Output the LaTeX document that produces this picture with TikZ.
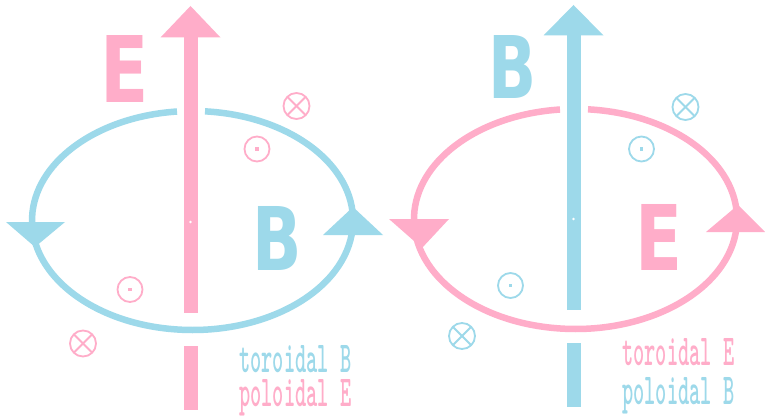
\documentclass[tikz,border=0pt]{standalone}
\usepackage{fontspec}
\newfontfamily\letterfont{DejaVu Sans}
\definecolor{epink}{HTML}{FFADC9}
\definecolor{bblue}{HTML}{9DD9EA}
\tikzset{
  loopline/.style={line width=6.5pt},
  symline/.style={line width=1.8pt},
  bigletter/.style={inner sep=0pt, anchor=south west},
  lab/.style={inner sep=0pt, anchor=base west},
}
\newcommand\mycross[3]{%
  \coordinate (#1) at #2;
  \draw[symline,#3] (#1) circle[radius=13];
  \draw[symline,#3] ([shift={(-9,-9)}]#1) -- ([shift={(9,9)}]#1);
  \draw[symline,#3] ([shift={(-9,9)}]#1) -- ([shift={(9,-9)}]#1);
}
\newcommand\mydot[3]{%
  \coordinate (#1) at #2;
  \draw[symline,#3] (#1) circle[radius=12.5];
  \fill[#3] ([shift={(-1.8,-1.8)}]#1) rectangle ([shift={(1.8,1.8)}]#1);
}
\newcommand\labtext[1]{\resizebox{112pt}{27pt}{\ttfamily\bfseries #1}}
\begin{document}
\begin{tikzpicture}[x=1pt,y=-1pt]
\useasboundingbox (0,0) rectangle (765,417);
\fill[white] (0,0) rectangle (765,417);

% ---------------- left panel ----------------
\coordinate (LC) at (192.5,220.5);
\draw[loopline,bblue] ([shift={(274.47:160.5 and 109.5)}]LC)
  arc[start angle=274.47, end angle=624.46, x radius=160.5, y radius=109.5];
\fill[bblue] (6,222) -- (65,222) -- (35,247) -- cycle;
\fill[bblue] (323,235) -- (383,235) -- (353,207) -- cycle;

\fill[epink] (183.5,37) rectangle (197.5,313);
\fill[epink] (183.5,346) rectangle (197.5,410);
\fill[epink] (160.5,37.5) -- (220.5,37.5) -- (190.5,6) -- cycle;
\fill[white] (190.5,222) circle[radius=1.4];

\node[bigletter] (lE) at (100.3,103) {\resizebox{48.3pt}{67pt}{\letterfont\bfseries\color{epink}E}};
\node[bigletter] (lB) at (251.9,271) {\resizebox{49.4pt}{64pt}{\letterfont\bfseries\color{bblue}B}};

\mycross{lx1}{(296.5,106)}{epink}
\mydot{ld1}{(257,149)}{epink}
\mydot{ld2}{(130,289.5)}{epink}
\mycross{lx2}{(83,343.5)}{epink}

\node[lab,text=bblue] (lt) at (239,372) {\labtext{toroidal B}};
\node[lab,text=epink] (lp) at (239,406) {\labtext{poloidal E}};

% ---------------- right panel ----------------
\coordinate (RC) at (575.5,219);
\draw[loopline,epink] ([shift={(274.44:161.5 and 110)}]RC)
  arc[start angle=274.44, end angle=624.49, x radius=161.5, y radius=110];
\fill[epink] (389,219) -- (449,219) -- (422,248) -- cycle;
\fill[epink] (706,232) -- (765,232) -- (738,205) -- cycle;

\fill[bblue] (566.5,35) rectangle (580.5,310);
\fill[bblue] (566.5,343) rectangle (580.5,407);
\fill[bblue] (543.5,35.5) -- (603.5,35.5) -- (573.5,5) -- cycle;
\fill[white] (573.5,219) circle[radius=1.4];

\node[bigletter] (rB) at (488.1,99) {\resizebox{48.1pt}{63pt}{\letterfont\bfseries\color{bblue}B}};
\node[bigletter] (rE) at (635.5,271) {\resizebox{47pt}{66pt}{\letterfont\bfseries\color{epink}E}};

\mycross{rx1}{(685.5,107)}{bblue}
\mydot{rd1}{(641.5,149)}{bblue}
\mydot{rd2}{(510.5,285.5)}{bblue}
\mycross{rx2}{(462,336)}{bblue}

\node[lab,text=epink] (rt) at (622,365) {\labtext{toroidal E}};
\node[lab,text=bblue] (rp) at (622,404) {\labtext{poloidal B}};
\end{tikzpicture}
\end{document}
